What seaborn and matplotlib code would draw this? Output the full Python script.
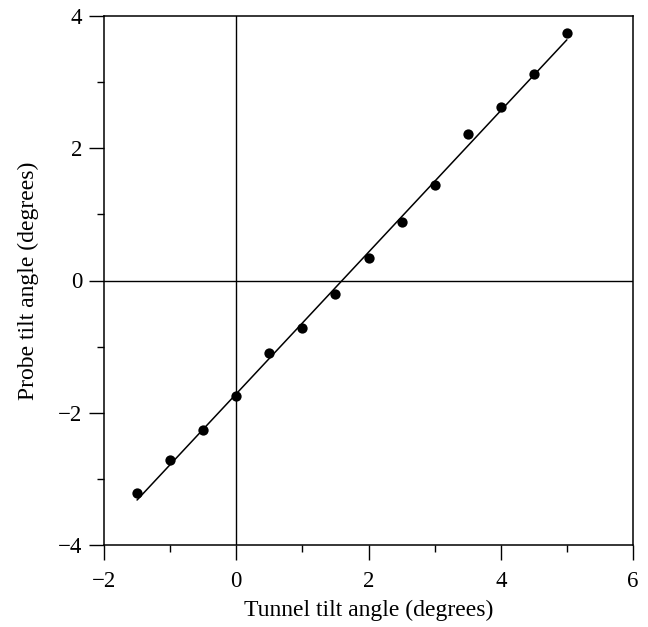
import matplotlib
matplotlib.use("Agg")
import matplotlib.pyplot as plt
from matplotlib.ticker import MultipleLocator
import seaborn as sns
import pandas as pd

tunnel_angle = [-1.5, -1.0, -0.5, 0.0, 0.5, 1.0, 1.5, 2.0, 2.5, 3.0, 3.5, 4.0, 4.5, 5.0]
probe_angle = [-3.22, -2.72, -2.26, -1.74, -1.10, -0.72, -0.20, 0.34, 0.89, 1.44, 2.21, 2.62, 3.13, 3.74]

# fitted straight line (end points)
fit_x = [-1.5, 5.0]
fit_y = [-3.32, 3.64]

sns.set_style("ticks")
plt.rcParams['font.family'] = ['Liberation Serif', 'DejaVu Serif']
plt.rcParams['text.color'] = 'black'
plt.rcParams['axes.labelcolor'] = 'black'
plt.rcParams['xtick.color'] = 'black'
plt.rcParams['ytick.color'] = 'black'

fig = plt.figure(figsize=(6.48, 6.27), dpi=100)
ax = fig.add_axes([104 / 648, 1 - 545 / 627, 529 / 648, 529 / 627])

datos = pd.DataFrame({'x': tunnel_angle, 'y': probe_angle})
linea = pd.DataFrame({'x': fit_x, 'y': fit_y})

# ejes de referencia en cero
ax.axhline(0, color='black', linewidth=1.0, zorder=1)
ax.axvline(0, color='black', linewidth=1.0, zorder=1)

sns.lineplot(data=linea, x='x', y='y', ax=ax, color='black', linewidth=1.1, zorder=2)
sns.scatterplot(data=datos, x='x', y='y', ax=ax, color='black', s=55,
                edgecolor='black', linewidth=0, zorder=3)

ax.set_xlim(-2, 6)
ax.set_ylim(-4, 4)
ax.xaxis.set_major_locator(MultipleLocator(2))
ax.xaxis.set_minor_locator(MultipleLocator(1))
ax.yaxis.set_major_locator(MultipleLocator(2))
ax.yaxis.set_minor_locator(MultipleLocator(1))

ax.tick_params(which='major', direction='out', length=10.5, width=1.0,
               labelsize=16.5, colors='black')
ax.tick_params(which='minor', direction='out', length=5, width=1.0, colors='black')
ax.tick_params(axis='x', which='major', pad=8)
ax.tick_params(axis='y', which='major', pad=5)
ax.tick_params(top=False, right=False, which='both')

for sp in ax.spines.values():
    sp.set_linewidth(1.1)
    sp.set_color('black')
    sp.set_visible(True)

ax.set_xlabel('Tunnel tilt angle (degrees)', fontsize=17, labelpad=6)
ax.set_ylabel('Probe tilt angle (degrees)', fontsize=17, labelpad=14)

plt.savefig('out.png', dpi=100)
